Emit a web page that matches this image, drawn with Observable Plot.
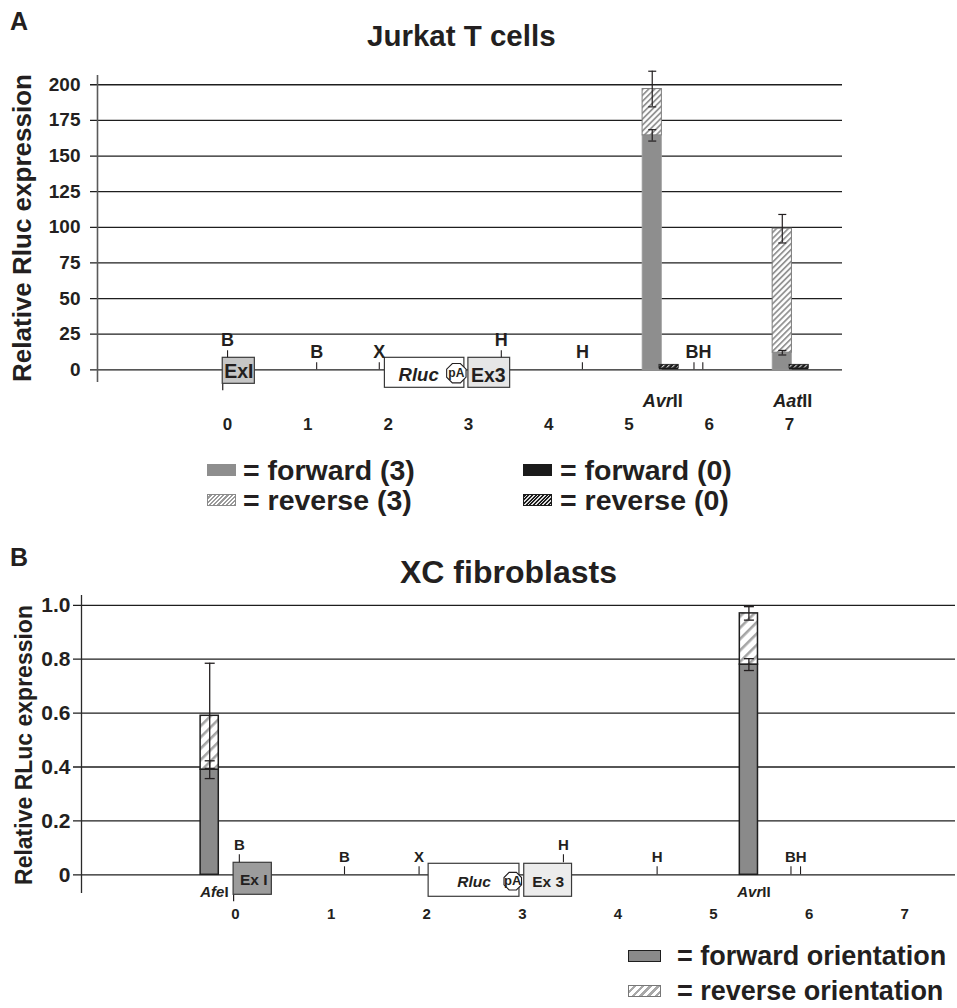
<!DOCTYPE html>
<html><head><meta charset="utf-8">
<script src="https://cdn.jsdelivr.net/npm/d3@7"></script>
<script src="https://cdn.jsdelivr.net/npm/@observablehq/plot@0.6"></script>
<style>
html,body{margin:0;padding:0;background:#fff;}
body{width:957px;height:1008px;position:relative;overflow:hidden;font-family:"Liberation Sans",Arial,Helvetica,sans-serif;color:#231f20;}
.t{position:absolute;white-space:nowrap;font-weight:bold;line-height:1;}
.sw{position:absolute;box-sizing:border-box;}
svg.plot{position:absolute;left:0;}
</style></head><body>
<script>
const FONT = '"Liberation Sans", Arial, Helvetica, sans-serif';
const INK = "#231f20";

// ---------------- Panel A: Jurkat T cells ----------------
const jurkatSites = ["AvrII", "AatII"];
const jurkatSiteKb = [5.29, 6.91];
const jurkatForward3 = [164.5, 12];
const jurkatForward3Err = [4, 1.6];
const jurkatReverse3 = [32.5, 87];
const jurkatTotal3Err = [12.5, 10];
const jurkatForward0 = [1.0, 1.0];
const jurkatReverse0 = [2.5, 2.5];
const jurkatYTicks = [0, 25, 50, 75, 100, 125, 150, 175, 200];
const jurkatKbTicks = [0, 1, 2, 3, 4, 5, 6, 7];
const jurkatMapBoxes = ["ExI", "Rluc", "Ex3"];
const jurkatMapBoxStart = [-0.06, 1.96, 3.0];
const jurkatMapBoxEnd = [0.34, 2.95, 3.52];
const jurkatPolyAKb = 2.85;
const jurkatMapSites = ["B", "B", "X", "H", "H", "BH"];
const jurkatMapSiteKb = [[0.0], [1.11], [1.89], [3.41], [4.42], [5.81, 5.92]];

// ---------------- Panel B: XC fibroblasts ----------------
const xcSites = ["AfeI", "AvrII"];
const xcSiteKb = [-0.27, 5.37];
const xcForward = [0.39, 0.78];
const xcForwardErr = [0.033, 0.022];
const xcReverse = [0.20, 0.19];
const xcTotalErr = [0.195, 0.025];
const xcYTicks = [0, 0.2, 0.4, 0.6, 0.8, 1.0];
const xcYTickLabels = ["0", "0.2", "0.4", "0.6", "0.8", "1.0"];
const xcKbTicks = [0, 1, 2, 3, 4, 5, 6, 7];
const xcMapBoxes = ["Ex I", "Rluc", "Ex 3"];
const xcMapBoxStart = [-0.02, 2.02, 3.02];
const xcMapBoxEnd = [0.38, 2.97, 3.52];
const xcPolyAKb = 2.90;
const xcMapSites = ["B", "B", "X", "H", "H", "BH"];
const xcMapSiteKb = [[0.04], [1.14], [1.92], [3.43], [4.41], [5.81, 5.91]];

// ---------------- helpers ----------------
const measureCtx = document.createElement("canvas").getContext("2d");
function textWidth(str, size, italic) {
  measureCtx.font = `${italic ? "italic " : ""}bold ${size}px ${FONT}`;
  return measureCtx.measureText(str).width;
}
const octagon = {
  draw(ctx, size) {
    const r = Math.sqrt(size / Math.PI);
    for (let i = 0; i < 8; i++) {
      const a = Math.PI / 8 + i * Math.PI / 4;
      const x = r * Math.cos(a), y = r * Math.sin(a);
      if (i) ctx.lineTo(x, y); else ctx.moveTo(x, y);
    }
    ctx.closePath();
  }
};
function hatchDefs(patterns) {
  return () => {
    const defs = d3.create("svg:defs");
    for (const p of patterns) {
      const pat = defs.append("pattern").attr("id", p.id).attr("patternUnits", "userSpaceOnUse")
        .attr("width", p.spacing).attr("height", p.spacing).attr("patternTransform", "rotate(45)");
      pat.append("rect").attr("width", p.spacing).attr("height", p.spacing).attr("fill", p.bg);
      pat.append("rect").attr("width", p.lineWidth).attr("height", p.spacing).attr("fill", p.line);
    }
    return defs.node();
  };
}
function siteData(sites, siteKb, starts, ends, boxTopPx, tickLenPx, gapPx, u) {
  const ticks = [], labels = [];
  sites.forEach((s, i) => {
    let top = 0;
    siteKb[i].forEach(kb => {
      const inBox = starts.some((st, j) => kb >= st && kb <= ends[j]);
      const base = inBox ? boxTopPx : 0;
      ticks.push({kb, y1: base * u, y2: (base + tickLenPx) * u});
      top = Math.max(top, base + tickLenPx);
    });
    labels.push({text: s, kb: d3.mean(siteKb[i]), y: (top + gapPx) * u});
  });
  return {ticks, labels};
}
function addText(str, o) {
  const d = document.createElement("div");
  d.className = "t";
  d.textContent = str;
  d.style.left = o.left + "px";
  d.style.top = o.top + "px";
  d.style.fontSize = o.size + "px";
  if (o.italic) d.style.fontStyle = "italic";
  let tr = "translateY(-50%)";
  if (o.anchor === "middle") tr = "translate(-50%,-50%)";
  if (o.rotate) tr = "translate(-50%,-50%) rotate(-90deg)";
  d.style.transform = tr;
  document.body.appendChild(d);
  return d;
}
function addSwatch(o) {
  const d = document.createElement("div");
  d.className = "sw";
  Object.assign(d.style, {left: o.left + "px", top: o.top + "px", width: o.w + "px", height: o.h + "px", background: o.bg, border: o.border || "none"});
  document.body.appendChild(d);
}

// ================= PANEL A =================
const A = {width: 957, height: 440, mt: 75, mb: 58, ml: 97, mr: 115, xDom: [-1.62, 7.66], yDom: [-8.9, 206.5]};
const uA = (A.yDom[1] - A.yDom[0]) / (A.height - A.mt - A.mb);
const kA = (A.xDom[1] - A.xDom[0]) / (A.width - A.ml - A.mr);
const barWA = 0.24, pairOffA = 0.21, capA = 4 * kA;
const boxStyleA = {
  "ExI": {fill: "#c6c6c6", top: 12, bottom: 14, italic: false, textDx: 0, textDy: 2},
  "Rluc": {fill: "#ffffff", top: 12, bottom: 18, italic: true, textDx: -6, textDy: 5.5},
  "Ex3": {fill: "#e6e6e6", top: 12, bottom: 18, italic: false, textDx: -1, textDy: 5.5}
};
const jurkatRows = jurkatSites.map((site, i) => ({
  site, kb: jurkatSiteKb[i], f3: jurkatForward3[i], f3e: jurkatForward3Err[i],
  r3: jurkatReverse3[i], t3e: jurkatTotal3Err[i], f0: jurkatForward0[i], r0: jurkatReverse0[i]
}));
const errA = jurkatRows.flatMap(d => [{kb: d.kb, v: d.f3, e: d.f3e}, {kb: d.kb, v: d.f3 + d.r3, e: d.t3e}]);
const capsA = errA.flatMap(d => [d.v - d.e, d.v + d.e].map(y => ({kb: d.kb, y})));
const boxesA = jurkatMapBoxes.map((name, i) => ({name, start: jurkatMapBoxStart[i], end: jurkatMapBoxEnd[i], ...boxStyleA[name]}));
const sitesA = siteData(jurkatMapSites, jurkatMapSiteKb, jurkatMapBoxStart, jurkatMapBoxEnd, 12, 7, 11, uA);
const enzA = jurkatRows.map(d => {
  const it = d.site.slice(0, 3), ro = d.site.slice(3);
  const wi = textWidth(it, 18, true), wr = textWidth(ro, 18, false);
  return {kb: d.kb + pairOffA / 2 + (wi - (wi + wr) / 2) * kA + 2 * kA, it, ro};
});

const plotA = Plot.plot({
  width: A.width, height: A.height,
  marginTop: A.mt, marginBottom: A.mb, marginLeft: A.ml, marginRight: A.mr,
  x: {domain: A.xDom, axis: null},
  y: {domain: A.yDom, axis: null},
  style: {fontFamily: FONT, color: INK, background: "transparent", overflow: "visible"},
  marks: [
    hatchDefs([
      {id: "hatchA3", bg: "#ffffff", line: "#949494", spacing: 4.2, lineWidth: 1.8},
      {id: "hatchA0", bg: "#1c1c1c", line: "#d8d8d8", spacing: 3.6, lineWidth: 1.1}
    ]),
    Plot.ruleY(jurkatYTicks, {x1: A.xDom[0] - 7 * kA, x2: A.xDom[1], stroke: "#1e1e1e", strokeWidth: 1.3}),
    Plot.ruleX([A.xDom[0]], {y1: A.yDom[0], y2: A.yDom[1], stroke: "#5a5a5a", strokeWidth: 1.6}),
    Plot.text(jurkatYTicks, {x: A.xDom[0], y: d => d, text: d => String(d), dx: -17, textAnchor: "end", fontSize: 19, fontWeight: "bold", fill: INK}),
    // gene map
    Plot.ruleX(boxesA.filter(b => b.name === "ExI"), {x: "start", y1: d => -d.bottom * uA, y2: d => -(d.bottom + 7) * uA, stroke: INK, strokeWidth: 1.2}),
    Plot.rect(boxesA, {x1: "start", x2: "end", y1: d => -d.bottom * uA, y2: d => d.top * uA, fill: "fill", stroke: "#3a3a3a", strokeWidth: 1.2}),
    Plot.text(boxesA.filter(b => !b.italic), {x: d => (d.start + d.end) / 2 + d.textDx * kA, y: d => -d.textDy * uA, text: "name", fontSize: 19.5, fontWeight: "bold", fill: INK}),
    Plot.text(boxesA.filter(b => b.italic), {x: d => (d.start + d.end) / 2 + d.textDx * kA, y: d => -d.textDy * uA, text: "name", fontSize: 18.5, fontWeight: "bold", fontStyle: "italic", fill: INK}),
    Plot.dot([jurkatPolyAKb], {x: d => d, y: -3.4 * uA, r: 10.5, symbol: octagon, fill: "white", stroke: INK, strokeWidth: 1.1}),
    Plot.text([jurkatPolyAKb], {x: d => d, y: -3.4 * uA, text: () => "pA", fontSize: 12, fontWeight: "bold", fill: INK}),
    Plot.ruleX(sitesA.ticks, {x: "kb", y1: "y1", y2: "y2", stroke: INK, strokeWidth: 1.1}),
    Plot.text(sitesA.labels, {x: "kb", y: "y", text: "text", fontSize: 18, fontWeight: "bold", fill: INK}),
    // bars
    Plot.rect(jurkatRows, {x1: d => d.kb - barWA / 2, x2: d => d.kb + barWA / 2, y1: 0, y2: "f3", fill: "#8e8e8e", stroke: "#a2a2a2", strokeWidth: 0.8}),
    Plot.rect(jurkatRows, {x1: d => d.kb - barWA / 2, x2: d => d.kb + barWA / 2, y1: "f3", y2: d => d.f3 + d.r3, fill: "url(#hatchA3)", stroke: "#7c7c7c", strokeWidth: 1}),
    Plot.rect(jurkatRows, {x1: d => d.kb + pairOffA - barWA / 2, x2: d => d.kb + pairOffA + barWA / 2, y1: 0, y2: "f0", fill: "#1a1a1a"}),
    Plot.rect(jurkatRows, {x1: d => d.kb + pairOffA - barWA / 2, x2: d => d.kb + pairOffA + barWA / 2, y1: "f0", y2: d => d.f0 + d.r0, fill: "url(#hatchA0)", stroke: "#1a1a1a", strokeWidth: 0.8}),
    Plot.ruleX(errA, {x: "kb", y1: d => d.v - d.e, y2: d => d.v + d.e, stroke: INK, strokeWidth: 1.2}),
    Plot.link(capsA, {x1: d => d.kb - capA, x2: d => d.kb + capA, y1: "y", y2: "y", stroke: INK, strokeWidth: 1.2}),
    // enzyme labels
    Plot.text(enzA, {x: "kb", y: 0, dy: 31, text: "it", textAnchor: "end", fontSize: 18, fontWeight: "bold", fontStyle: "italic", fill: INK}),
    Plot.text(enzA, {x: "kb", y: 0, dy: 31, text: "ro", textAnchor: "start", fontSize: 18, fontWeight: "bold", fill: INK}),
    // kb labels
    Plot.text(jurkatKbTicks, {x: d => d, y: 0, dy: 55, text: d => String(d), fontSize: 17, fontWeight: "bold", fill: INK})
  ]
});
plotA.classList.add("plot");
plotA.style.top = "0px";
document.body.appendChild(plotA);

// ================= PANEL B =================
const B = {top: 540, width: 957, height: 400, mt: 55, mb: 47, ml: 81, mr: 2, xDom: [-1.611, 7.531], yDom: [-0.0694, 1.0364]};
const uB = (B.yDom[1] - B.yDom[0]) / (B.height - B.mt - B.mb);
const kB = (B.xDom[1] - B.xDom[0]) / (B.width - B.ml - B.mr);
const barWB = 0.19, capB = 5 * kB;
const boxStyleB = {
  "Ex I": {fill: "#9c9c9c", top: 12, bottom: 20, italic: false, textDx: 1, textDy: 5.7},
  "Rluc": {fill: "#ffffff", top: 11, bottom: 22, italic: true, textDx: 0, textDy: 7.4},
  "Ex 3": {fill: "#ececec", top: 11, bottom: 22, italic: false, textDx: 0, textDy: 7}
};
const xcRows = xcSites.map((site, i) => ({
  site, kb: xcSiteKb[i], f: xcForward[i], fe: xcForwardErr[i], r: xcReverse[i], te: xcTotalErr[i]
}));
const errB = xcRows.flatMap(d => [{kb: d.kb, v: d.f, e: d.fe}, {kb: d.kb, v: d.f + d.r, e: d.te}]);
const capsB = errB.flatMap(d => [d.v - d.e, d.v + d.e].map(y => ({kb: d.kb, y})));
const boxesB = xcMapBoxes.map((name, i) => ({name, start: xcMapBoxStart[i], end: xcMapBoxEnd[i], ...boxStyleB[name]}));
const sitesB = siteData(xcMapSites, xcMapSiteKb, xcMapBoxStart, xcMapBoxEnd, 12, 8, 10, uB);
// enzyme labels: AfeI is written left of the Ex I cut site, AvrII under its bar
const enzB = xcRows.map(d => {
  const it = d.site.slice(0, 3), ro = d.site.slice(3);
  const wi = textWidth(it, 15, true), wr = textWidth(ro, 15, false);
  if (d.site === "AfeI") {
    return {kb: xcMapBoxStart[0] - (5 + wr) * kB, it, ro};
  }
  return {kb: d.kb + (wi - (wi + wr) / 2) * kB + 5 * kB, it, ro};
});

const plotB = Plot.plot({
  width: B.width, height: B.height,
  marginTop: B.mt, marginBottom: B.mb, marginLeft: B.ml, marginRight: B.mr,
  x: {domain: B.xDom, axis: null},
  y: {domain: B.yDom, axis: null},
  style: {fontFamily: FONT, color: INK, background: "transparent", overflow: "visible"},
  marks: [
    hatchDefs([{id: "hatchB", bg: "#ffffff", line: "#a5a5a5", spacing: 8, lineWidth: 2.6}]),
    Plot.ruleY(xcYTicks, {x1: B.xDom[0] - 8 * kB, x2: B.xDom[1], stroke: "#1e1e1e", strokeWidth: 1.3}),
    Plot.ruleX([B.xDom[0]], {y1: B.yDom[0], y2: B.yDom[1], stroke: "#2a2a2a", strokeWidth: 1.3}),
    Plot.text(xcYTicks, {x: B.xDom[0], y: d => d, text: (d, i) => xcYTickLabels[i], dx: -11, textAnchor: "end", fontSize: 21, fontWeight: "bold", fill: INK}),
    // gene map
    Plot.ruleX(boxesB.filter(b => b.name === "Ex I"), {x: "start", y1: d => -d.bottom * uB, y2: d => -(d.bottom + 7) * uB, stroke: INK, strokeWidth: 1.2}),
    Plot.rect(boxesB, {x1: "start", x2: "end", y1: d => -d.bottom * uB, y2: d => d.top * uB, fill: "fill", stroke: "#3a3a3a", strokeWidth: 1.2}),
    Plot.text(boxesB.filter(b => !b.italic), {x: d => (d.start + d.end) / 2 + d.textDx * kB, y: d => -d.textDy * uB, text: "name", fontSize: 15.5, fontWeight: "bold", fill: INK}),
    Plot.text(boxesB.filter(b => b.italic), {x: d => (d.start + d.end) / 2 + d.textDx * kB, y: d => -d.textDy * uB, text: "name", fontSize: 15.5, fontWeight: "bold", fontStyle: "italic", fill: INK}),
    Plot.dot([xcPolyAKb], {x: d => d, y: -6.4 * uB, r: 9.5, symbol: octagon, fill: "white", stroke: INK, strokeWidth: 1.1}),
    Plot.text([xcPolyAKb], {x: d => d, y: -6.4 * uB, text: () => "pA", fontSize: 13, fontWeight: "bold", fill: INK}),
    Plot.ruleX(sitesB.ticks, {x: "kb", y1: "y1", y2: "y2", stroke: INK, strokeWidth: 1.1}),
    Plot.text(sitesB.labels, {x: "kb", y: "y", text: "text", fontSize: 15, fontWeight: "bold", fill: INK}),
    // bars
    Plot.rect(xcRows, {x1: d => d.kb - barWB / 2, x2: d => d.kb + barWB / 2, y1: 0, y2: "f", fill: "#8a8a8a", stroke: "#1e1e1e", strokeWidth: 1.5}),
    Plot.rect(xcRows, {x1: d => d.kb - barWB / 2, x2: d => d.kb + barWB / 2, y1: "f", y2: d => d.f + d.r, fill: "url(#hatchB)", stroke: "#1e1e1e", strokeWidth: 1.5}),
    Plot.ruleX(errB, {x: "kb", y1: d => d.v - d.e, y2: d => d.v + d.e, stroke: INK, strokeWidth: 1.3}),
    Plot.link(capsB, {x1: d => d.kb - capB, x2: d => d.kb + capB, y1: "y", y2: "y", stroke: INK, strokeWidth: 1.3}),
    // enzyme labels
    Plot.text(enzB, {x: "kb", y: 0, dy: 17, text: "it", textAnchor: "end", fontSize: 15, fontWeight: "bold", fontStyle: "italic", fill: INK}),
    Plot.text(enzB, {x: "kb", y: 0, dy: 17, text: "ro", textAnchor: "start", fontSize: 15, fontWeight: "bold", fill: INK}),
    // kb labels
    Plot.text(xcKbTicks, {x: d => d, y: 0, dy: 39, text: d => String(d), fontSize: 15, fontWeight: "bold", fill: INK})
  ]
});
plotB.classList.add("plot");
plotB.style.top = B.top + "px";
document.body.appendChild(plotB);

// ================= titles, axis titles, legends =================
addText("A", {left: 10, top: 21, size: 25});
addText("Jurkat T cells", {left: 367, top: 36, size: 29.5});
addText("Relative Rluc expression", {left: 22, top: 228, size: 26, rotate: true});
addText("B", {left: 10, top: 557, size: 25});
addText("XC fibroblasts", {left: 400, top: 572, size: 32});
addText("Relative RLuc expression", {left: 24, top: 745, size: 23, rotate: true});

// legend A
const legendA = [
  {label: "= forward (3)", col: 0, row: 0, bg: "#8e8e8e"},
  {label: "= reverse (3)", col: 0, row: 1, bg: "repeating-linear-gradient(135deg,#ffffff 0 1.3px,#9a9a9a 1.3px 3px)", border: "1px solid #8a8a8a"},
  {label: "= forward (0)", col: 1, row: 0, bg: "#1a1a1a"},
  {label: "= reverse (0)", col: 1, row: 1, bg: "repeating-linear-gradient(135deg,#1c1c1c 0 1.5px,#dddddd 1.5px 2.6px)", border: "1px solid #1a1a1a"}
];
const legACols = [{sw: 207, tx: 243}, {sw: 523, tx: 560}];
const legARows = [470, 500];
legendA.forEach(d => {
  addSwatch({left: legACols[d.col].sw, top: legARows[d.row] - 6, w: 29, h: 12, bg: d.bg, border: d.border});
  addText(d.label, {left: legACols[d.col].tx, top: legARows[d.row], size: 28.5});
});
// legend B
const legendB = [
  {label: "= forward orientation", bg: "#8a8a8a", border: "1.5px solid #1e1e1e"},
  {label: "= reverse orientation", bg: "repeating-linear-gradient(135deg,#ffffff 0 3px,#a8a8a8 3px 5.5px)", border: "1.2px solid #777"}
];
const legBRows = [956, 991];
legendB.forEach((d, i) => {
  addSwatch({left: 628, top: legBRows[i] - 6, w: 33, h: 12, bg: d.bg, border: d.border});
  addText(d.label, {left: 677, top: legBRows[i], size: 27});
});
</script>
</body></html>
